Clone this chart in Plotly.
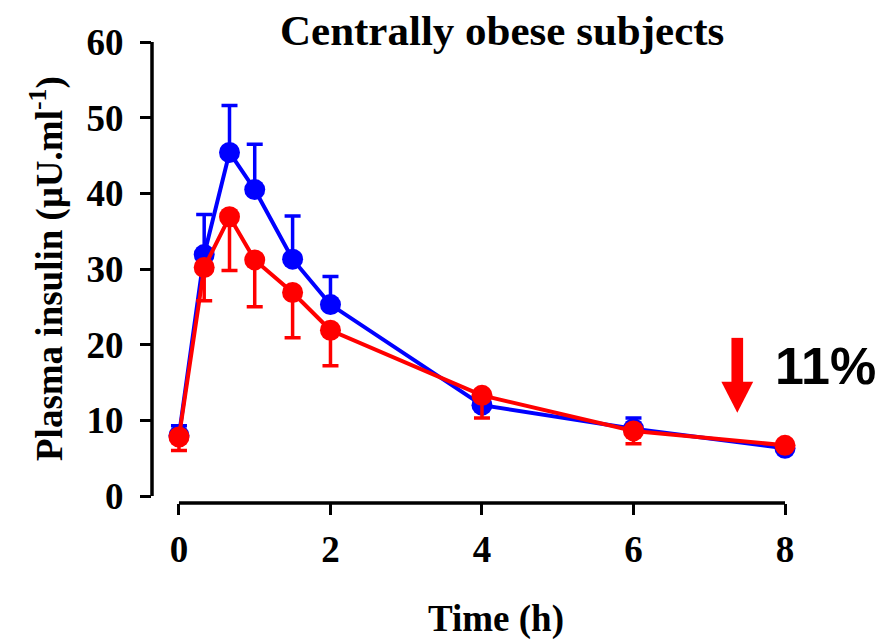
import plotly.graph_objects as go

# Sampling times (h)
time_h = [0, 0.333, 0.667, 1, 1.5, 2, 4, 6, 8]

# Plasma insulin (µU/ml), mean and SEM
blue_insulin = [8.0, 31.9, 45.4, 40.5, 31.3, 25.3, 12.0, 8.9, 6.3]
blue_sem = [1.3, 5.3, 6.2, 6.0, 5.7, 3.7, 0.6, 1.4, 0.5]
red_insulin = [7.8, 30.2, 36.9, 31.2, 26.9, 21.9, 13.3, 8.6, 6.7]
red_sem = [1.8, 4.4, 7.1, 6.2, 6.0, 4.7, 3.0, 1.7, 0.5]

x_ticks = [0, 2, 4, 6, 8]
y_ticks = [0, 10, 20, 30, 40, 50, 60]

BLUE = "#0000FF"
RED = "#FF0000"
SERIF = "Liberation Serif"

fig = go.Figure()

fig.add_trace(go.Scatter(
    x=time_h, y=blue_insulin, mode="lines+markers",
    line=dict(color=BLUE, width=4),
    marker=dict(color=BLUE, size=21),
    error_y=dict(type="data", symmetric=False, array=blue_sem,
                 arrayminus=[0] * len(blue_sem),
                 color=BLUE, thickness=3.5, width=8),
    showlegend=False,
))
fig.add_trace(go.Scatter(
    x=time_h, y=red_insulin, mode="lines+markers",
    line=dict(color=RED, width=4),
    marker=dict(color=RED, size=21),
    error_y=dict(type="data", symmetric=False, array=[0] * len(red_sem),
                 arrayminus=red_sem,
                 color=RED, thickness=3.5, width=8),
    showlegend=False,
))

tick_font = dict(family=SERIF, size=37, color="black", weight="bold")

fig.update_xaxes(
    range=[-0.356, 8.198], tickvals=x_ticks, ticktext=[str(v) for v in x_ticks],
    ticks="outside", ticklen=11, tickwidth=3, tickcolor="black",
    showline=False, showgrid=False, zeroline=False,
    tickfont=tick_font, ticklabelstandoff=3,
)
fig.update_yaxes(
    range=[-0.925, 60], tickvals=y_ticks,
    ticks="outside", ticklen=11, tickwidth=3, tickcolor="black",
    showline=False, showgrid=False, zeroline=False,
    tickfont=tick_font, ticklabelstandoff=9,
)

# Detached axis lines spanning only the data ranges
fig.add_shape(type="line", xref="x", yref="paper", x0=0, x1=8, y0=0, y1=0,
              line=dict(color="black", width=3.5))
fig.add_shape(type="line", xref="paper", yref="y", x0=0, x1=0, y0=0, y1=60,
              line=dict(color="black", width=3.5))

# Red down arrow marking the reduction
arrow_x, shaft_top, head_top, tip = 7.37, 20.9, 15.1, 11.0
shaft_hw, head_hw = 0.077, 0.21
fig.add_shape(type="rect", xref="x", yref="y",
              x0=arrow_x - shaft_hw, x1=arrow_x + shaft_hw, y0=head_top - 0.2, y1=shaft_top,
              fillcolor=RED, line=dict(width=0))
fig.add_shape(type="path", xref="x", yref="y",
              path=f"M {arrow_x - head_hw},{head_top} L {arrow_x + head_hw},{head_top} L {arrow_x},{tip} Z",
              fillcolor=RED, line=dict(width=0))

fig.add_annotation(text="11%", xref="paper", yref="paper",
                   x=(825 - 152) / (800 - 152), y=(503 - 366) / (503 - 42),
                   xanchor="center", yanchor="middle", showarrow=False,
                   font=dict(family="Liberation Sans", size=52, color="black", weight="bold"))

# Title and axis titles
fig.add_annotation(text="Centrally obese subjects", xref="paper", yref="paper",
                   x=(502 - 152) / (800 - 152), y=(503 - 30) / (503 - 42),
                   xanchor="center", yanchor="middle", showarrow=False,
                   font=dict(family=SERIF, size=43, color="black", weight="bold"))
fig.add_annotation(text="Time (h)", xref="paper", yref="paper",
                   x=(496 - 152) / (800 - 152), y=(503 - 619) / (503 - 42),
                   xanchor="center", yanchor="middle", showarrow=False,
                   font=dict(family=SERIF, size=37, color="black", weight="bold"))
fig.add_annotation(text="Plasma insulin (μU.ml<sup>-1</sup>)", xref="paper", yref="paper",
                   x=(47 - 152) / (800 - 152), y=(503 - 269) / (503 - 42),
                   xanchor="center", yanchor="middle", showarrow=False, textangle=-90,
                   font=dict(family=SERIF, size=37, color="black", weight="bold"))

fig.update_layout(
    width=889, height=640,
    margin=dict(l=152, r=89, t=42, b=137),
    plot_bgcolor="white", paper_bgcolor="white",
)

fig.write_html("out.html")
